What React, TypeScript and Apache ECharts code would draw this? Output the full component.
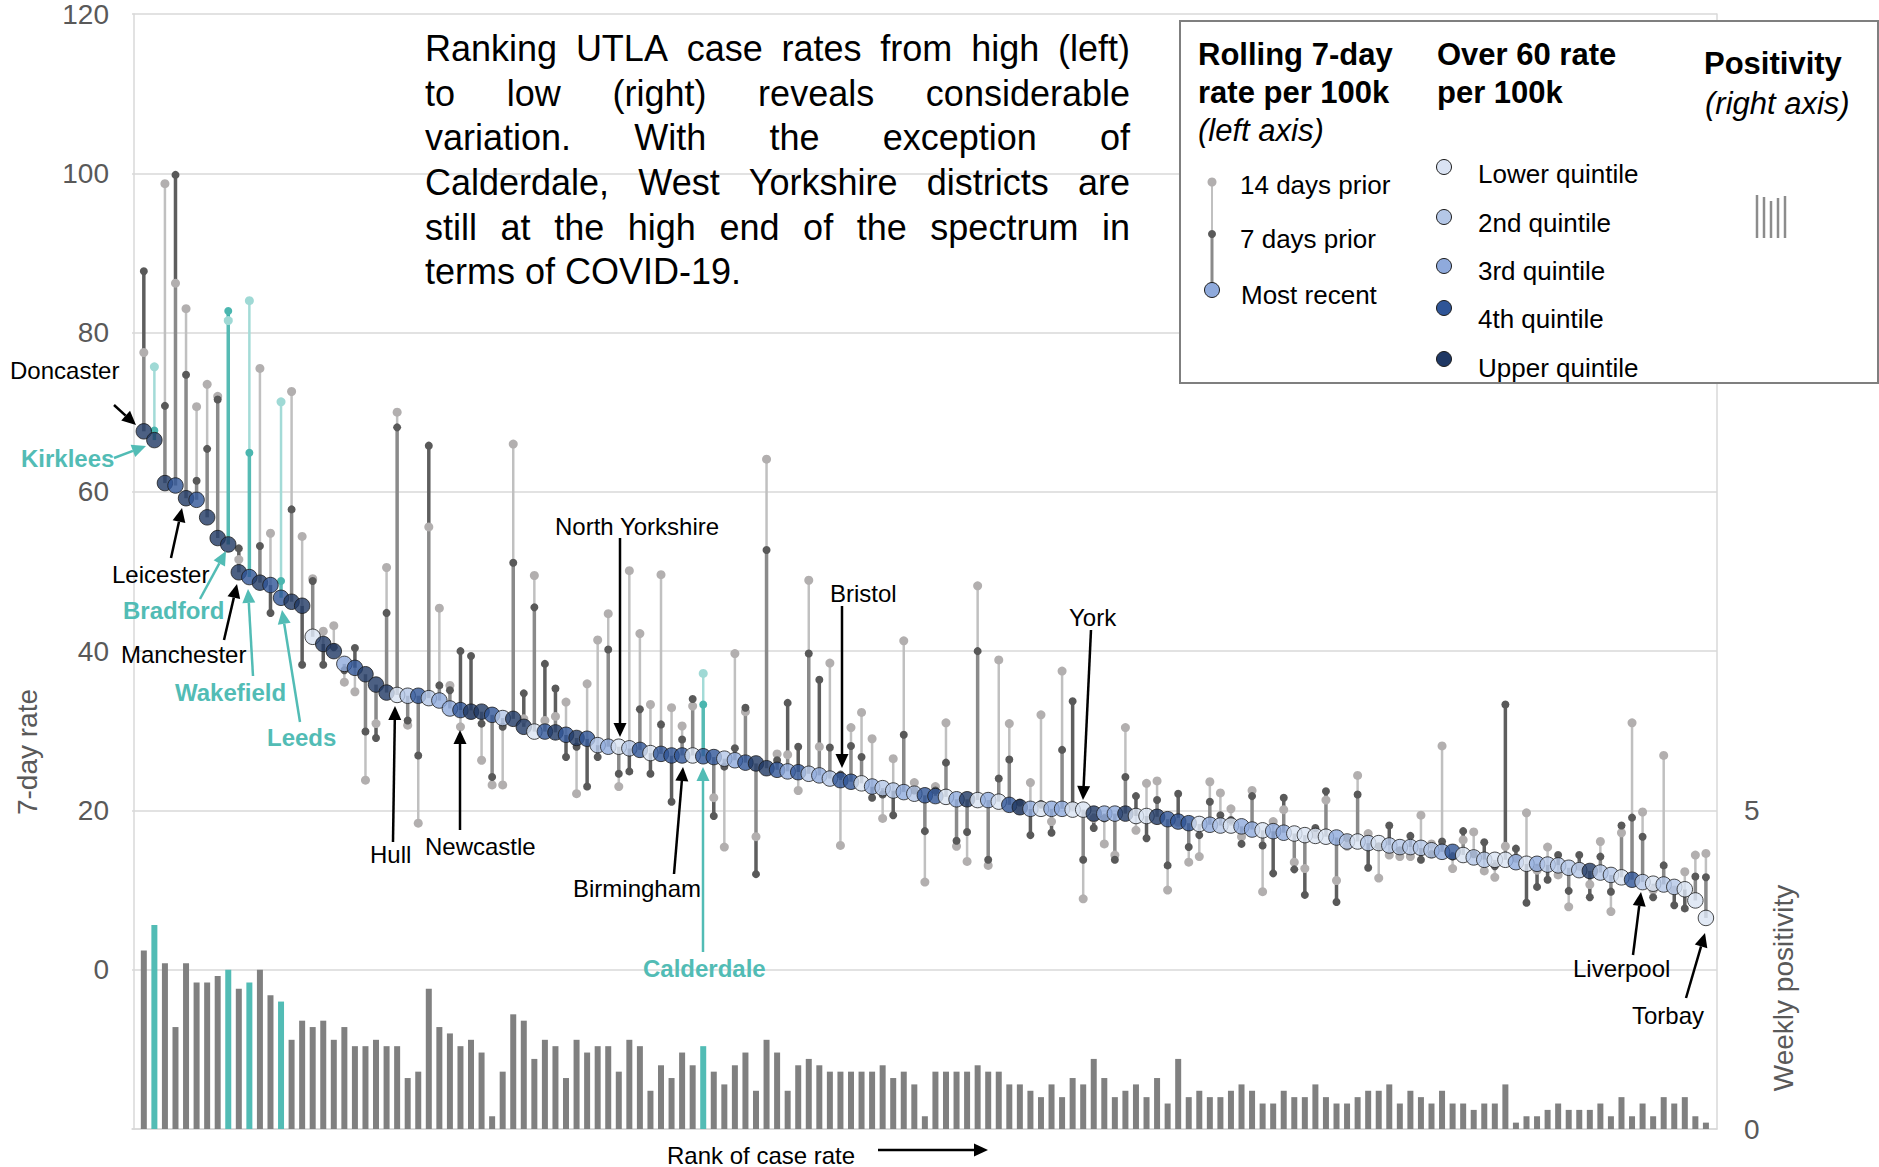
import React, { useEffect, useRef } from 'react';
import * as echarts from 'echarts';

// ---------- DATA (rank order 1..149, high to low) ----------
const mostRecent = [
  67.6, 66.5, 61.1, 60.8, 59.2, 59.0, 56.8, 54.2, 53.4, 49.9,
  49.3, 48.6, 48.3, 46.7, 46.2, 45.7, 41.8, 40.9, 40.0, 38.4,
  37.9, 37.1, 35.8, 34.8, 34.5, 34.4, 34.4, 34.1, 33.8, 32.8,
  32.6, 32.4, 32.4, 32.0, 31.6, 31.5, 30.5, 29.9, 29.9, 29.8,
  29.5, 29.1, 29.0, 28.2, 28.0, 28.0, 27.8, 27.6, 27.2, 27.1,
  26.9, 26.9, 26.9, 26.8, 26.7, 26.5, 26.3, 26.0, 25.9, 25.3,
  25.1, 24.9, 24.8, 24.6, 24.4, 24.0, 23.8, 23.6, 23.4, 23.0,
  22.8, 22.5, 22.3, 22.1, 21.9, 21.8, 21.7, 21.4, 21.4, 21.3,
  21.3, 21.1, 20.7, 20.4, 20.2, 20.2, 20.2, 20.2, 20.1, 20.1,
  19.6, 19.6, 19.6, 19.6, 19.3, 19.3, 19.2, 18.9, 18.6, 18.4,
  18.3, 18.2, 18.1, 18.1, 18.0, 17.6, 17.5, 17.4, 17.2, 17.1,
  16.9, 16.8, 16.7, 16.6, 16.1, 16.1, 15.9, 15.9, 15.6, 15.4,
  15.4, 15.3, 15.0, 14.8, 14.8, 14.4, 14.1, 13.8, 13.8, 13.8,
  13.5, 13.3, 13.3, 13.2, 13.1, 12.8, 12.5, 12.4, 12.2, 11.9,
  11.6, 11.3, 11.0, 10.8, 10.7, 10.4, 10.1, 8.7, 6.5,
];

const prior7 = [
  87.7, 67.7, 70.8, 99.8, 74.7, 61.4, 65.4, 71.6, 82.7, 52.9,
  64.9, 53.2, 44.8, 48.8, 57.8, 38.3, 48.8, 38.3, 40.5, 37.6,
  40.4, 29.9, 29.1, 44.8, 68.1, 31.3, 26.9, 65.8, 35.7, 35.1,
  40.0, 39.4, 30.9, 24.2, 30.5, 51.1, 34.7, 45.5, 38.4, 35.3,
  26.7, 28.0, 23.0, 26.7, 40.2, 24.6, 24.9, 32.7, 24.6, 30.8,
  21.1, 28.9, 34.0, 33.3, 19.3, 25.5, 27.8, 32.9, 12.0, 52.7,
  26.3, 33.5, 28.0, 39.7, 36.4, 27.9, 24.5, 28.1, 26.7, 21.6,
  22.0, 19.4, 29.5, 22.5, 17.4, 22.5, 26.0, 16.2, 17.3, 40.0,
  13.8, 24.0, 26.4, 21.0, 16.9, 20.8, 17.2, 27.6, 33.7, 13.8,
  17.8, 19.0, 13.8, 24.2, 21.8, 16.5, 21.3, 13.1, 22.1, 15.4,
  16.9, 21.1, 19.4, 18.8, 15.8, 21.8, 15.6, 12.1, 21.6, 12.6,
  9.4, 17.8, 22.4, 8.5, 16.5, 22.0, 12.8, 15.5, 18.1, 15.0,
  16.8, 13.8, 14.5, 16.1, 14.2, 17.4, 14.5, 16.0, 13.0, 33.3,
  15.2, 8.4, 10.4, 11.3, 14.4, 9.9, 14.4, 9.1, 14.2, 9.8,
  18.1, 19.1, 16.7, 9.1, 13.1, 8.1, 7.7, 11.7, 11.6,
];

const prior14 = [
  77.5, 75.7, 98.7, 86.2, 83.0, 70.7, 73.5, 72.0, 81.5, 51.5,
  84.0, 75.5, 54.8, 71.3, 72.6, 54.4, 49.1, 42.5, 43.2, 36.1,
  34.9, 23.8, 30.9, 50.5, 70.0, 30.7, 18.4, 55.6, 45.4, 35.7,
  30.5, 32.0, 26.3, 23.2, 23.2, 66.0, 31.5, 49.5, 31.3, 31.8,
  33.6, 22.1, 35.9, 41.4, 44.7, 23.0, 50.1, 42.2, 33.3, 49.6,
  32.9, 30.6, 33.1, 37.2, 21.6, 15.4, 39.7, 32.4, 16.7, 64.1,
  27.1, 27.0, 22.5, 48.9, 28.0, 38.5, 15.6, 30.4, 32.3, 29.0,
  19.0, 26.5, 41.3, 23.5, 11.0, 23.0, 31.0, 15.5, 13.6, 48.2,
  13.1, 38.9, 30.9, 20.0, 23.5, 32.0, 18.6, 37.5, 20.5, 8.9,
  19.0, 15.8, 14.4, 30.4, 17.5, 23.4, 23.7, 10.0, 18.5, 13.5,
  14.2, 23.6, 22.2, 20.2, 16.7, 22.5, 9.8, 18.6, 20.1, 13.5,
  12.7, 17.0, 21.3, 11.2, 15.5, 24.4, 17.1, 11.5, 14.4, 14.2,
  14.2, 19.4, 15.8, 28.1, 12.7, 16.3, 17.3, 12.4, 11.6, 15.5,
  14.0, 19.7, 12.5, 15.4, 11.9, 7.9, 13.0, 10.7, 16.1, 7.3,
  17.2, 31.0, 19.8, 10.0, 26.9, 10.0, 12.3, 14.4, 14.6,
];

// Over-60 rate quintile: 1 = lower ... 5 = upper
const over60Quintile = [
  5, 5, 5, 4, 5, 4, 5, 5, 5, 5,
  4, 5, 4, 4, 5, 5, 1, 5, 5, 3,
  4, 5, 5, 5, 1, 2, 4, 2, 3, 3,
  4, 5, 5, 4, 2, 5, 5, 1, 4, 5,
  4, 5, 4, 2, 3, 1, 2, 4, 1, 4,
  4, 4, 1, 4, 4, 2, 3, 4, 5, 5,
  4, 3, 4, 2, 3, 2, 4, 4, 1, 3,
  2, 2, 3, 2, 4, 4, 1, 3, 5, 1,
  3, 1, 4, 5, 3, 1, 3, 3, 1, 1,
  5, 3, 3, 5, 1, 1, 5, 4, 4, 4,
  1, 3, 2, 1, 3, 3, 1, 3, 3, 1,
  1, 1, 1, 3, 2, 1, 2, 1, 2, 2,
  2, 2, 2, 3, 4, 1, 2, 2, 1, 1,
  3, 1, 3, 2, 2, 2, 2, 5, 2, 2,
  1, 4, 2, 1, 2, 2, 1, 1, 1,
];

// Weekly positivity (%), right axis
const positivity = [
  2.8, 3.2, 2.6, 1.6, 2.6, 2.3, 2.3, 2.4, 2.5, 2.2,
  2.3, 2.5, 2.1, 2.0, 1.4, 1.7, 1.6, 1.7, 1.4, 1.6,
  1.3, 1.3, 1.4, 1.3, 1.3, 0.8, 0.9, 2.2, 1.6, 1.5,
  1.3, 1.4, 1.2, 0.2, 0.9, 1.8, 1.7, 1.1, 1.4, 1.3,
  0.8, 1.4, 1.2, 1.3, 1.3, 0.9, 1.4, 1.3, 0.6, 1.0,
  0.8, 1.2, 1.0, 1.3, 0.9, 0.7, 1.0, 1.2, 0.6, 1.4,
  1.2, 0.6, 1.0, 1.1, 1.0, 0.9, 0.9, 0.9, 0.9, 0.9,
  1.0, 0.8, 0.9, 0.7, 0.2, 0.9, 0.9, 0.9, 0.9, 1.0,
  0.9, 0.9, 0.7, 0.7, 0.6, 0.5, 0.7, 0.5, 0.8, 0.7,
  1.1, 0.8, 0.5, 0.6, 0.7, 0.5, 0.8, 0.4, 1.1, 0.5,
  0.6, 0.5, 0.5, 0.6, 0.7, 0.6, 0.4, 0.4, 0.6, 0.5,
  0.5, 0.7, 0.5, 0.4, 0.4, 0.5, 0.6, 0.6, 0.7, 0.4,
  0.6, 0.5, 0.4, 0.6, 0.4, 0.4, 0.3, 0.4, 0.4, 0.7,
  0.1, 0.2, 0.2, 0.3, 0.4, 0.3, 0.3, 0.3, 0.4, 0.2,
  0.5, 0.2, 0.4, 0.2, 0.5, 0.4, 0.5, 0.2, 0.1,
];

// West Yorkshire districts (by rank)
const westYorkshireRanks = [2, 9, 11, 14, 54];

const quintileLabels = ['Lower quintile', '2nd quintile', '3rd quintile', '4th quintile', 'Upper quintile'];
const quintileColors = ['#dae3f3', '#b4c7e7', '#8faadc', '#2f5597', '#1f3864'];

const paragraphLines = [
  'Ranking UTLA case rates from high (left)',
  'to low (right) reveals considerable',
  'variation. With the exception of',
  'Calderdale, West Yorkshire districts are',
  'still at the high end of the spectrum in',
  'terms of COVID-19.',
];

const annotations = [
  { text: 'Doncaster', tx: 10, ty: 370, from: [114, 405], to: [136, 425], wy: false },
  { text: 'Kirklees', tx: 21, ty: 458, from: [114, 458], to: [146, 446], wy: true },
  { text: 'Leicester', tx: 112, ty: 574, from: [171, 558], to: [182, 508], wy: false },
  { text: 'Bradford', tx: 123, ty: 610, from: [200, 599], to: [226, 551], wy: true },
  { text: 'Manchester', tx: 121, ty: 654, from: [224, 640], to: [237, 584], wy: false },
  { text: 'Wakefield', tx: 175, ty: 692, from: [253, 676], to: [248, 589], wy: true },
  { text: 'Leeds', tx: 267, ty: 737, from: [300, 722], to: [282, 610], wy: true },
  { text: 'Hull', tx: 370, ty: 854, from: [393, 842], to: [395, 706], wy: false },
  { text: 'Newcastle', tx: 425, ty: 846, from: [460, 830], to: [460, 730], wy: false },
  { text: 'North Yorkshire', tx: 555, ty: 526, from: [620, 538], to: [620, 737], wy: false },
  { text: 'Birmingham', tx: 573, ty: 888, from: [674, 874], to: [683, 767], wy: false },
  { text: 'Calderdale', tx: 643, ty: 968, from: [703, 952], to: [703, 767], wy: true },
  { text: 'Bristol', tx: 830, ty: 593, from: [842, 606], to: [842, 768], wy: false },
  { text: 'York', tx: 1069, ty: 617, from: [1091, 630], to: [1083, 800], wy: false },
  { text: 'Liverpool', tx: 1573, ty: 968, from: [1633, 955], to: [1641, 892], wy: false },
  { text: 'Torbay', tx: 1632, ty: 1015, from: [1686, 998], to: [1705, 933], wy: false },
];

const FONT = '"Liberation Sans", Arial, Helvetica, sans-serif';
const TEAL = '#52bcb5';

const gray = { dark: '#5e5e5e', mid: '#8a8a8a', light: '#c0c0c0', lightDot: '#b2afaf', darkDot: '#595959' };
const teal = { dark: '#3fb1aa', mid: '#56bbb4', light: '#a3dbd7', lightDot: '#9fd9d5', darkDot: '#4ab6af' };

function txt(text: string, x: number, y: number, o: any = {}) {
  return {
    type: 'text',
    x,
    y,
    z: o.z ?? 100,
    rotation: o.rotation ?? 0,
    style: {
      text,
      fill: o.fill ?? '#000',
      fontSize: o.fontSize ?? 24,
      fontFamily: FONT,
      fontWeight: o.fontWeight ?? 'normal',
      fontStyle: o.fontStyle ?? 'normal',
      textAlign: o.align ?? 'left',
      textVerticalAlign: 'middle',
    },
  };
}

function arrow(x1: number, y1: number, x2: number, y2: number, color: string, z = 100, w = 2.5) {
  const ang = Math.atan2(y2 - y1, x2 - x1);
  const hl = 14;
  const hw = 6.5;
  const bx = x2 - hl * Math.cos(ang);
  const by = y2 - hl * Math.sin(ang);
  const px = -Math.sin(ang) * hw;
  const py = Math.cos(ang) * hw;
  return [
    { type: 'line', z, shape: { x1, y1, x2: bx, y2: by }, style: { stroke: color, lineWidth: w } },
    {
      type: 'polygon',
      z,
      shape: { points: [[x2, y2], [bx + px, by + py], [bx - px, by - py]] },
      style: { fill: color },
    },
  ];
}

export default function App() {
  const ref = useRef<HTMLDivElement>(null);

  useEffect(() => {
    document.body.style.margin = '0';
    const chart = echarts.init(ref.current!, undefined, { renderer: 'svg' });

    const ctx = document.createElement('canvas').getContext('2d')!;
    const measure = (t: string, font: string) => {
      ctx.font = font;
      return ctx.measureText(t).width;
    };

    const barData = positivity.map((v, k) => ({
      value: [k + 1, v],
      itemStyle: { color: westYorkshireRanks.includes(k + 1) ? TEAL : '#808080' },
    }));
    const stemData = mostRecent.map((v, k) => [
      k + 1,
      v,
      prior7[k],
      prior14[k],
      westYorkshireRanks.includes(k + 1) ? 1 : 0,
    ]);
    const dotData = mostRecent.map((v, k) => ({
      value: [k + 1, v],
      itemStyle: { color: quintileColors[over60Quintile[k] - 1] },
    }));

    const graphics: any[] = [];

    // justified paragraph
    const pFontSize = 36;
    const pFont = `${pFontSize}px "Liberation Sans"`;
    const pLeft = 425;
    const pRight = 1130;
    const pYs = [48, 93, 137, 182, 227, 271];
    paragraphLines.forEach((line, li) => {
      const words = line.split(' ');
      if (li === paragraphLines.length - 1 || words.length < 2) {
        graphics.push(txt(line, pLeft, pYs[li], { fontSize: pFontSize }));
        return;
      }
      const widths = words.map((w) => measure(w, pFont));
      const total = widths.reduce((a, b) => a + b, 0);
      const gap = (pRight - pLeft - total) / (words.length - 1);
      let x = pLeft;
      words.forEach((w, wi) => {
        graphics.push(txt(w, x, pYs[li], { fontSize: pFontSize }));
        x += widths[wi] + gap;
      });
    });

    // annotations
    annotations.forEach((a) => {
      const c = a.wy ? TEAL : '#000';
      graphics.push(
        txt(a.text, a.tx, a.ty, { fill: c, fontSize: 24, fontWeight: a.wy ? 'bold' : 'normal' })
      );
      graphics.push(...arrow(a.from[0], a.from[1], a.to[0], a.to[1], c));
    });
    graphics.push(txt('Rank of case rate', 667, 1155, { fontSize: 24 }));
    graphics.push(...arrow(878, 1150, 988, 1150, '#000', 100, 2.5));

    // axis titles
    graphics.push(
      txt('7-day rate', 27, 752, { fontSize: 28, fill: '#595959', align: 'center', rotation: Math.PI / 2 })
    );
    graphics.push(
      txt('Weekly positivity', 1783, 988, { fontSize: 28, fill: '#595959', align: 'center', rotation: Math.PI / 2 })
    );

    // legend box
    const LZ = 300;
    graphics.push({
      type: 'rect',
      z: LZ,
      shape: { x: 1180, y: 21, width: 698, height: 362 },
      style: { fill: '#fff', stroke: '#7f7f7f', lineWidth: 2 },
    });
    const hdr = { fontSize: 31, fontWeight: 'bold', z: LZ + 1 };
    const ital = { fontSize: 31, fontStyle: 'italic', z: LZ + 1 };
    const item = { fontSize: 26, z: LZ + 1 };
    graphics.push(txt('Rolling 7-day', 1198, 54, hdr));
    graphics.push(txt('rate per 100k', 1198, 92, hdr));
    graphics.push(txt('(left axis)', 1198, 130, ital));
    graphics.push(txt('Over 60 rate', 1437, 54, hdr));
    graphics.push(txt('per 100k', 1437, 92, hdr));
    graphics.push(txt('Positivity', 1704, 63, hdr));
    graphics.push(txt('(right axis)', 1705, 103, ital));
    graphics.push(txt('14 days prior', 1240, 185, item));
    graphics.push(txt('7 days prior', 1240, 239, item));
    graphics.push(txt('Most recent', 1241, 295, item));
    graphics.push({
      type: 'line', z: LZ + 1,
      shape: { x1: 1212, y1: 182, x2: 1212, y2: 290 },
      style: { stroke: gray.light, lineWidth: 2 },
    });
    graphics.push({
      type: 'line', z: LZ + 1,
      shape: { x1: 1212, y1: 234, x2: 1212, y2: 290 },
      style: { stroke: gray.mid, lineWidth: 3 },
    });
    graphics.push({ type: 'circle', z: LZ + 2, shape: { cx: 1212, cy: 182, r: 4.5 }, style: { fill: gray.lightDot } });
    graphics.push({ type: 'circle', z: LZ + 2, shape: { cx: 1212, cy: 234, r: 4 }, style: { fill: gray.darkDot } });
    graphics.push({
      type: 'circle', z: LZ + 2,
      shape: { cx: 1212, cy: 290, r: 7.5 },
      style: { fill: quintileColors[2], stroke: '#1b1b1b', lineWidth: 1 },
    });
    const qCircleY = [167, 217, 266, 308, 359];
    const qTextY = [174, 223, 271, 319, 368];
    quintileLabels.forEach((lab, qi) => {
      graphics.push({
        type: 'circle', z: LZ + 2,
        shape: { cx: 1444, cy: qCircleY[qi], r: 7.5 },
        style: { fill: quintileColors[qi], stroke: '#1b1b1b', lineWidth: 1 },
      });
      graphics.push(txt(lab, 1478, qTextY[qi], item));
    });
    const iconX = [1757, 1764, 1771, 1778, 1785];
    const iconTop = [195, 197, 201, 198, 196];
    iconX.forEach((x, ii) => {
      graphics.push({
        type: 'rect', z: LZ + 2,
        shape: { x: x - 1.25, y: iconTop[ii], width: 2.5, height: 238 - iconTop[ii] },
        style: { fill: '#8c8c8c' },
      });
    });

    const option: any = {
      animation: false,
      backgroundColor: '#fff',
      textStyle: { fontFamily: FONT },
      grid: { left: 132, right: 162, top: 14, bottom: 38, containLabel: false },
      xAxis: {
        type: 'value',
        min: -0.12,
        max: 150.05,
        axisLine: { show: true, onZero: false, lineStyle: { color: '#d9d9d9', width: 1.5 } },
        axisTick: { show: false },
        axisLabel: { show: false },
        splitLine: { show: false },
      },
      yAxis: [
        {
          type: 'value',
          min: -20,
          max: 120,
          interval: 20,
          axisLine: { show: true, lineStyle: { color: '#d9d9d9', width: 1.5 } },
          axisTick: { show: false },
          axisLabel: {
            fontSize: 28,
            color: '#595959',
            margin: 23,
            fontFamily: FONT,
            formatter: (v: number) => (v < 0 ? '' : String(v)),
          },
          splitLine: { show: true, lineStyle: { color: '#d9d9d9', width: 1.5 } },
        },
        {
          type: 'value',
          position: 'right',
          min: 0,
          max: 17.5,
          interval: 5,
          axisLine: { show: true, lineStyle: { color: '#d9d9d9', width: 1.5 } },
          axisTick: { show: false },
          axisLabel: {
            fontSize: 28,
            color: '#595959',
            margin: 27,
            fontFamily: FONT,
            showMaxLabel: false,
            formatter: (v: number) => (v === 0 || v === 5 ? String(v) : ''),
          },
          splitLine: { show: false },
        },
      ],
      series: [
        {
          type: 'bar',
          yAxisIndex: 1,
          barWidth: 6,
          data: barData,
          z: 1,
        },
        {
          type: 'custom',
          yAxisIndex: 0,
          z: 2,
          encode: { x: 0, y: 1 },
          data: stemData,
          renderItem: (params: any, api: any) => {
            const x = api.value(0);
            const now = api.value(1);
            const p7 = api.value(2);
            const p14 = api.value(3);
            const pal = api.value(4) ? teal : gray;
            const cN = api.coord([x, now]);
            const c7 = api.coord([x, p7]);
            const c14 = api.coord([x, p14]);
            const seg = (a: number[], b: number[], color: string, w: number) => ({
              type: 'line',
              shape: { x1: a[0], y1: a[1], x2: b[0], y2: b[1] },
              style: { stroke: color, lineWidth: w },
            });
            const children: any[] = [];
            const up7 = p7 >= now;
            const up14 = p14 >= now;
            if (up7 === up14) {
              const sevenNearer = Math.abs(p7 - now) <= Math.abs(p14 - now);
              const near = sevenNearer ? c7 : c14;
              const far = sevenNearer ? c14 : c7;
              children.push(seg(cN, near, pal.mid, 3.5));
              children.push(seg(near, far, sevenNearer ? pal.light : pal.dark, sevenNearer ? 2.5 : 3.5));
            } else {
              children.push(seg(cN, c7, pal.dark, 3.5));
              children.push(seg(cN, c14, pal.light, 2.5));
            }
            children.push({ type: 'circle', shape: { cx: c14[0], cy: c14[1], r: 4.5 }, style: { fill: pal.lightDot } });
            children.push({ type: 'circle', shape: { cx: c7[0], cy: c7[1], r: 4 }, style: { fill: pal.darkDot } });
            return { type: 'group', children };
          },
        },
        {
          type: 'scatter',
          yAxisIndex: 0,
          z: 3,
          symbol: 'circle',
          symbolSize: 15.5,
          itemStyle: { borderColor: '#1b1b1b', borderWidth: 1 },
          data: dotData,
        },
      ],
      graphic: { elements: graphics },
    };

    chart.setOption(option);
    return () => chart.dispose();
  }, []);

  return (
    <div
      ref={ref}
      style={{ position: 'absolute', left: 0, top: 0, width: 1879, height: 1167, background: '#fff' }}
    />
  );
}
